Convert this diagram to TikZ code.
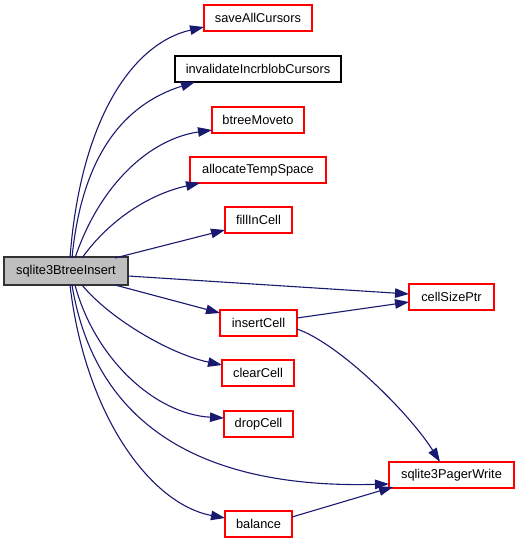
\documentclass[tikz,border=0pt]{standalone}
\usepackage{fontspec}
\setmainfont{Liberation Sans}
\usetikzlibrary{arrows.meta}
\definecolor{edgeblue}{RGB}{25,25,112}
\definecolor{boxred}{RGB}{255,0,0}
\definecolor{mainfill}{RGB}{191,191,191}
\begin{document}
\begin{tikzpicture}[x=1pt,y=1pt,
  fn/.style={draw=boxred,line width=1.1pt,fill=white,minimum height=26pt,inner sep=0pt,
    font=\fontsize{12.8}{15}\selectfont},
  fnblack/.style={fn,draw=black},
  mainbox/.style={fn,draw=black!80,fill=mainfill},
  edge/.style={draw=edgeblue,line width=1.1pt,-{Triangle[length=14pt,width=9.5pt]}}]
\useasboundingbox (0,0) rectangle (520,544);
\node[mainbox,minimum width=124pt,minimum height=28pt] (main) at (66,273) {sqlite3BtreeInsert};
\node[fn,minimum width=108pt] (save) at (258,526) {saveAllCursors};
\node[fnblack,minimum width=166pt] (inval) at (258,475) {invalidateIncrblobCursors};
\node[fn,minimum width=92pt] (btree) at (258,424) {btreeMoveto};
\node[fn,minimum width=136pt] (alloc) at (258,374) {allocateTempSpace};
\node[fn,minimum width=67pt] (fill) at (258.5,324) {fillInCell};
\node[fn,minimum width=77pt] (insert) at (258.5,221) {insertCell};
\node[fn,minimum width=72pt] (clear) at (258,171) {clearCell};
\node[fn,minimum width=69pt] (drop) at (258.5,120) {dropCell};
\node[fn,minimum width=67pt] (balance) at (258.5,20) {balance};
\node[fn,minimum width=85pt] (csp) at (451.5,247) {cellSizePtr};
\node[fn,minimum width=125pt] (pw) at (451.5,69) {sqlite3PagerWrite};

\coordinate (m1) at (70,286);
\coordinate (m2) at (72,286);
\coordinate (m3) at (75,286);
\coordinate (m4) at (82,286);
\coordinate (m5) at (115,286);
\coordinate (b1) at (70,259);
\coordinate (b2) at (72,259);
\coordinate (b3) at (75,259);
\coordinate (b4) at (82,259);
\coordinate (b5) at (115,259);
\coordinate (mr) at (128,268);

\coordinate (tsave) at (204,517);
\coordinate (tinval) at (195,462);
\coordinate (tbtree) at (212,414);
\coordinate (talloc) at (200,361);
\coordinate (tfill) at (225,314);
\coordinate (tinsert) at (220,231);
\coordinate (tclear) at (222,179);
\coordinate (tdrop) at (224,126);
\coordinate (tbal) at (225,26);
\coordinate (tcsp1) at (409,250);
\coordinate (tcsp2) at (409,242);
\coordinate (tpw1) at (389,60);
\coordinate (tpw2) at (440,82);
\coordinate (tpw3) at (393,57);
\coordinate (ir1) at (297,226);
\coordinate (ir2) at (297,215);
\coordinate (br) at (292,27);

\path[edge] (m1) .. controls (80,420) and (130,500) .. (tsave);
\path[edge] (m2) .. controls (82,390) and (125,440) .. (tinval);
\path[edge] (m3) .. controls (100,360) and (150,405) .. (tbtree);
\path[edge] (m4) .. controls (110,325) and (150,350) .. (talloc);
\path[edge] (m5) -- (tfill);
\path[edge] (mr) -- (tcsp1);
\path[edge] (b5) -- (tinsert);
\path[edge] (ir1) -- (tcsp2);
\path[edge] (ir2) .. controls (340,200) and (410,130) .. (tpw2);
\path[edge] (b4) .. controls (110,225) and (170,190) .. (tclear);
\path[edge] (b3) .. controls (95,185) and (155,130) .. (tdrop);
\path[edge] (b2) .. controls (95,120) and (200,55) .. (tpw1);
\path[edge] (b1) .. controls (85,130) and (150,40) .. (tbal);
\path[edge] (br) -- (tpw3);
\end{tikzpicture}
\end{document}
